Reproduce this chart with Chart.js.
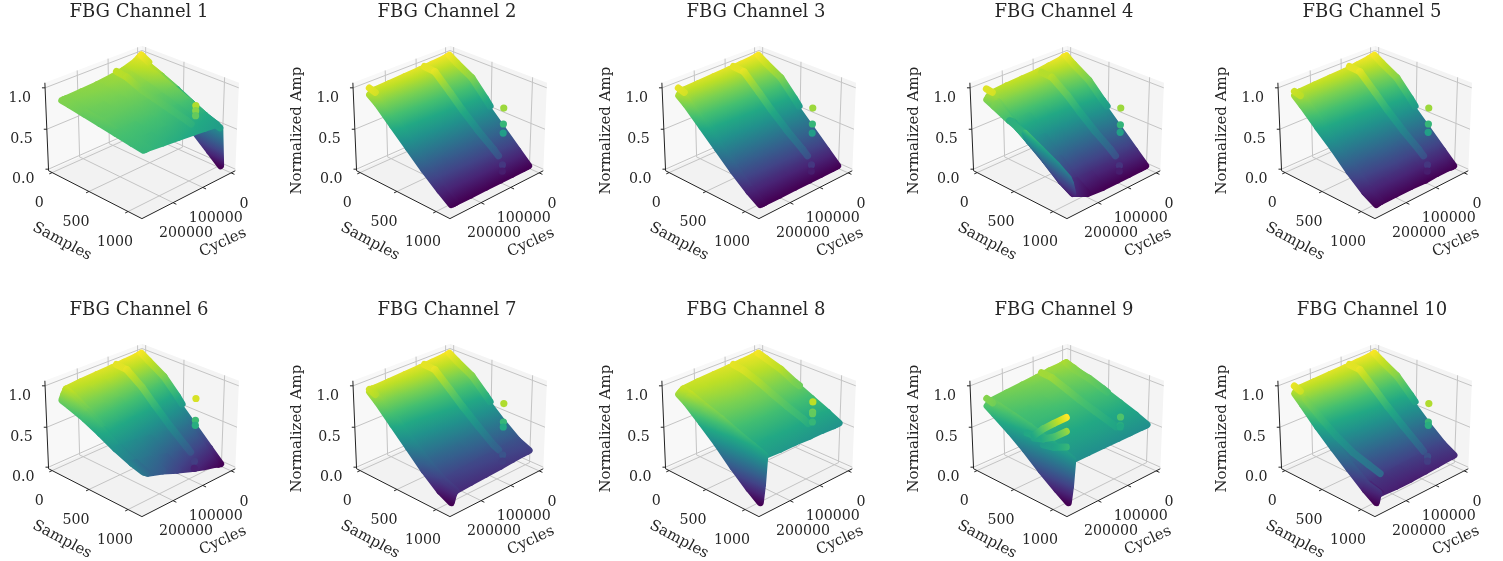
<!DOCTYPE html>
<html>
<head>
<meta charset="utf-8">
<style>
  html, body { margin:0; padding:0; background:#fff; overflow:hidden; width:1503px; height:561px; }
  canvas { position:absolute; filter:blur(0.4px); }
</style>
</head>
<body>
<script src="https://cdn.jsdelivr.net/npm/chart.js"></script>
<script>
// axes
const titles = ['FBG Channel 1','FBG Channel 2','FBG Channel 3','FBG Channel 4','FBG Channel 5','FBG Channel 6','FBG Channel 7','FBG Channel 8','FBG Channel 9','FBG Channel 10'];
const zLabelShown = [false,true,true,true,true,false,true,true,true,true];
const sampleTicks = [0,500,1000];
const cycleTicks = [0,100000,200000];
const ampTicks = [0,0.5,1];
const ampTickLabels = ['0.0','0.5','1.0'];

// surface grid: one row per cycle, one column per sample
const samples = [0,100,300,500,700,900,1040];
const cycles = [0,8000,20000,60000,100000,150000,200000,248000,255000,262000];

const amp1 = [
  [.98,.89,.70,.50,.30,.13,.01],
  [.96,.92,.84,.75,.65,.55,.50],
  [.93,.91,.86,.78,.70,.61,.56],
  [.88,.86,.81,.75,.69,.62,.58],
  [.85,.84,.80,.75,.70,.64,.60],
  [.83,.82,.79,.75,.71,.66,.62],
  [.82,.81,.78,.75,.71,.67,.64],
  [.81,.80,.77,.75,.71,.68,.66],
  [.81,.80,.77,.75,.71,.68,.66],
  [.81,.80,.77,.74,.71,.68,.66]];
const amp2 = [
  [.97,.88,.70,.52,.33,.14,.01],
  [.97,.88,.70,.52,.33,.14,.01],
  [.96,.87,.70,.52,.33,.14,.01],
  [.95,.86,.69,.51,.32,.14,.01],
  [.94,.85,.68,.50,.31,.13,.01],
  [.93,.84,.67,.49,.30,.13,.01],
  [.92,.83,.66,.48,.29,.12,.01],
  [.91,.82,.65,.47,.28,.12,.01],
  [.90,.82,.64,.46,.28,.11,.01],
  [.88,.81,.63,.45,.27,.11,.01]];
const amp3 = [
  [.97,.88,.70,.52,.33,.14,.01],
  [.97,.88,.70,.52,.33,.14,.01],
  [.96,.87,.70,.52,.33,.14,.01],
  [.95,.86,.69,.51,.32,.13,.01],
  [.94,.85,.68,.50,.31,.13,.01],
  [.93,.84,.67,.49,.30,.12,.01],
  [.92,.83,.66,.48,.29,.12,.01],
  [.91,.82,.65,.47,.28,.11,.01],
  [.90,.82,.64,.46,.28,.11,.01],
  [.87,.80,.62,.44,.26,.10,.01]];
const amp4 = [
  [.97,.88,.70,.52,.33,.14,.01],
  [.97,.88,.70,.52,.33,.14,.01],
  [.95,.87,.70,.52,.33,.14,.01],
  [.93,.85,.68,.50,.31,.13,.01],
  [.91,.84,.67,.49,.30,.12,.01],
  [.90,.83,.66,.48,.29,.11,.01],
  [.89,.82,.65,.48,.30,.12,.03],
  [.87,.81,.64,.50,.36,.20,.12],
  [.85,.80,.67,.55,.44,.32,.25],
  [.82,.78,.69,.62,.52,.42,.33]];
const amp5 = [
  [.97,.88,.70,.52,.33,.14,.01],
  [.97,.88,.70,.52,.33,.14,.01],
  [.96,.87,.70,.52,.33,.14,.02],
  [.94,.85,.68,.51,.32,.14,.02],
  [.92,.83,.66,.49,.30,.13,.01],
  [.91,.82,.65,.47,.30,.13,.02],
  [.90,.81,.64,.46,.28,.12,.02],
  [.89,.81,.63,.45,.27,.11,.02],
  [.88,.80,.62,.45,.26,.10,.02],
  [.87,.79,.61,.44,.25,.09,.01]];
const amp6 = [
  [.97,.88,.70,.52,.33,.14,.01],
  [.97,.88,.70,.52,.33,.15,.02],
  [.96,.88,.71,.53,.35,.17,.04],
  [.95,.88,.72,.55,.38,.21,.08],
  [.94,.88,.73,.57,.41,.25,.13],
  [.93,.88,.74,.59,.44,.30,.20],
  [.92,.87,.75,.61,.47,.36,.28],
  [.90,.86,.75,.62,.49,.40,.34],
  [.85,.83,.73,.62,.50,.41,.36],
  [.79,.76,.69,.60,.50,.42,.38]];
const amp7 = [
  [.97,.89,.72,.56,.39,.24,.18],
  [.97,.89,.72,.56,.39,.24,.18],
  [.96,.88,.71,.55,.39,.24,.18],
  [.95,.87,.70,.54,.38,.23,.17],
  [.94,.86,.69,.53,.37,.22,.16],
  [.93,.85,.67,.51,.35,.21,.15],
  [.92,.83,.65,.49,.33,.20,.14],
  [.91,.82,.64,.47,.31,.18,.13],
  [.91,.82,.63,.45,.28,.14,.10],
  [.89,.81,.62,.43,.24,.08,.01]];
const amp8 = [
  [.97,.93,.85,.77,.68,.59,.52],
  [.97,.93,.85,.77,.68,.59,.52],
  [.96,.93,.85,.77,.68,.59,.52],
  [.95,.92,.85,.77,.68,.59,.53],
  [.94,.91,.84,.77,.68,.60,.53],
  [.93,.90,.84,.77,.68,.60,.54],
  [.92,.89,.83,.76,.68,.60,.54],
  [.90,.88,.81,.75,.67,.60,.55],
  [.88,.85,.75,.63,.48,.33,.22],
  [.86,.80,.64,.47,.28,.11,.01]];
const amp9 = [
  [.86,.83,.76,.70,.63,.56,.50],
  [.86,.83,.76,.70,.63,.56,.50],
  [.85,.82,.76,.70,.63,.56,.50],
  [.84,.81,.75,.69,.63,.56,.50],
  [.82,.79,.75,.69,.62,.56,.50],
  [.80,.77,.73,.68,.62,.56,.50],
  [.78,.76,.71,.67,.61,.55,.50],
  [.76,.74,.70,.66,.60,.55,.50],
  [.74,.71,.63,.54,.42,.29,.20],
  [.72,.66,.54,.40,.24,.10,.01]];
const amp10 = [
  [.97,.89,.71,.54,.36,.20,.12],
  [.97,.89,.71,.54,.36,.20,.12],
  [.96,.88,.70,.53,.35,.19,.12],
  [.95,.87,.69,.52,.34,.18,.11],
  [.94,.86,.68,.51,.33,.17,.10],
  [.93,.85,.66,.49,.31,.16,.09],
  [.92,.83,.64,.47,.29,.15,.09],
  [.91,.82,.63,.45,.28,.14,.10],
  [.90,.82,.63,.45,.28,.15,.12],
  [.87,.78,.59,.42,.26,.10,.01]];
const ampGrids = [amp1,amp2,amp3,amp4,amp5,amp6,amp7,amp8,amp9,amp10];

// raised stripes running along the samples axis
const stripeACycle = 85000;
const stripeASamples = [0,140,340,500,700,900,960];
const stripeA = [
  [.90,.88,.80,.76,.71,.66,.64],
  [.96,.95,.77,.62,.45,.30,.25],
  [.96,.95,.77,.62,.45,.30,.25],
  [.89,.88,.74,.60,.44,.30,.25],
  [.96,.95,.77,.62,.45,.30,.25],
  [.96,.95,.81,.66,.48,.32,.27],
  [.96,.95,.78,.64,.48,.33,.30],
  [.96,.94,.87,.80,.72,.65,.62],
  [.86,.85,.78,.72,.66,.60,.58],
  [.96,.95,.78,.64,.48,.33,.28]];
const stripeBCycle = 0;
const stripeBSamples = [0,100,300,480,540];
const stripeB = [
  [.98,.93,null,null,null],
  [.98,.92,.81,.62,.55],
  [.98,.92,.81,.62,.55],
  [.97,.90,.78,.60,.55],
  [.98,.92,.81,.62,.55],
  [.98,.92,.80,.62,.55],
  [.98,.92,.81,.64,.58],
  [.98,.95,.89,.80,.78],
  [.86,.82,.78,.72,.70],
  [.98,.92,.81,.64,.58]];
// short heavy patch at the last cycle
const stripeCCycle = 262000;
const stripeCSamples = [0,80];
const stripeC = [
  [null,null],[.96,.94],[.96,.94],[.95,.94],[.92,.90],
  [null,null],[.92,.89],[null,null],[.81,.79],[.96,.93]];
// ridge just before the last cycle, channel 10
const stripeDCycle = 250000;
const stripeDSamples = [100,300,500,700,900,1040];
const stripeD10 = [.82,.67,.54,.44,.38,.34];

// lone markers off the surface
const dotCycle = 85000;
const dotSample = 1010;
const dotAmps = [
  [.88,.82,.76],
  [.85,.66,.55,.16,.08],
  [.85,.66,.55,.16,.08],
  [.85,.65,.56,.15,.08],
  [.85,.66,.56,.16,.08],
  [.94,.68,.62,.18,.09],
  [.88,.66,.60,.26,.18],
  [.90,.78,.76,.66],
  [.72,.62,.60],
  [.88,.66,.62,.24,.18]];

// streaks across channel 9, close to the last cycle
const streakCycle = 258000;
const streakSamples = [510,600,717,850,1000];
const streak9a = [.60,.61,.74,.86,.99];
const streak9b = [null,.58,.62,.70,.83];
const streak9c = [null,null,.55,.58,.65];

const viridis = ['#440154','#482475','#414487','#355f8d','#2a788e','#21918c','#22a884','#44bf70','#7ad151','#bddf26','#fde725'];

const cLim = [-15000,300000], sLim = [-50,1170], zLim = [-0.02,1.06];
const elev = 27*Math.PI/180, azim = Math.PI/4;
const boxX = 1.1428, boxY = 1.1428, boxZ = 0.857, eyeDist = 10;
const kx = 1207, ky = 1170;

// same perspective as a 3d axes box (x is cycles, y is samples)
function rawProject(c,s,z){
  const qx = ((c-cLim[0])/(cLim[1]-cLim[0])-0.5)*boxX;
  const qy = ((s-sLim[0])/(sLim[1]-sLim[0])-0.5)*boxY;
  const qz = ((z-zLim[0])/(zLim[1]-zLim[0])-0.5)*boxZ;
  const ce = Math.cos(elev), se = Math.sin(elev), ca = Math.cos(azim), sa = Math.sin(azim);
  const right = -sa*qx + ca*qy;
  const up = -se*ca*qx - se*sa*qy + ce*qz;
  const toward = ce*ca*qx + ce*sa*qy + se*qz;
  const d = eyeDist - toward;
  return {x:right/d, y:up/d};
}
const base = rawProject(cLim[1],sLim[1],zLim[0]);
function project(c,s,z){
  const p = rawProject(c,s,z);
  return {x:(p.x-base.x)*kx, y:(p.y-base.y)*ky};
}

function viridisAt(t){
  const v = Math.max(0,Math.min(1,t))*10, i = Math.min(9,Math.floor(v)), f = v-i;
  const a = parseInt(viridis[i].slice(1),16), b = parseInt(viridis[i+1].slice(1),16);
  const mix = sh => Math.round(((a>>sh)&255)*(1-f)+((b>>sh)&255)*f);
  return 'rgb('+mix(16)+','+mix(8)+','+mix(0)+')';
}

// canvas gradient in which colour follows amplitude across the shape
function ampGradient(chart,pts,amps){
  const sx = chart.scales.x, sy = chart.scales.y;
  const px = pts.map(p => ({x:sx.getPixelForValue(p.x), y:sy.getPixelForValue(p.y)}));
  let gx, gy;
  if (pts.length === 2) {
    const dx = px[1].x-px[0].x, dy = px[1].y-px[0].y, l2 = dx*dx+dy*dy || 1, da = amps[1]-amps[0];
    gx = dx*da/l2; gy = dy*da/l2;
  } else {
    const ax = px[2].x-px[0].x, ay = px[2].y-px[0].y, bx = px[3].x-px[1].x, by = px[3].y-px[1].y;
    const da = amps[2]-amps[0], db = amps[3]-amps[1], det = ax*by-ay*bx;
    if (Math.abs(det) < 1e-6) { gx = 0; gy = 0; }
    else { gx = (da*by-db*ay)/det; gy = (ax*db-bx*da)/det; }
  }
  const mx = px.reduce((t,p)=>t+p.x,0)/px.length, my = px.reduce((t,p)=>t+p.y,0)/px.length;
  const ma = amps.reduce((t,a)=>t+a,0)/amps.length, g2 = gx*gx+gy*gy;
  // thin folded cells give a wild gradient, keep them one colour
  if (g2 < 1e-9 || g2 > 0.0025) return viridisAt(ma);
  const grad = chart.ctx.createLinearGradient(mx-gx*ma/g2, my-gy*ma/g2, mx+gx*(1-ma)/g2, my+gy*(1-ma)/g2);
  viridis.forEach((col,i) => grad.addColorStop(i/10,col));
  return grad;
}

function lineSet(points,color,width){
  return {data:points, showLine:true, borderColor:color, borderWidth:width, pointRadius:0, fill:false, clip:false};
}

function paneSets(){
  const sets = [];
  const cA = cLim[0], cB = cLim[1], sA = sLim[0], sB = sLim[1], zA = zLim[0], zB = zLim[1];
  const pane = (corners,color) => sets.push({data:corners.concat([corners[0]]).map(q=>project(q[0],q[1],q[2])), showLine:true,
    borderColor:color, borderWidth:0, backgroundColor:color, pointRadius:0, fill:'shape', clip:false});
  pane([[cA,sA,zA],[cB,sA,zA],[cB,sB,zA],[cA,sB,zA]],'#f2f2f2');
  pane([[cA,sA,zA],[cB,sA,zA],[cB,sA,zB],[cA,sA,zB]],'#f8f8f8');
  pane([[cA,sA,zA],[cA,sB,zA],[cA,sB,zB],[cA,sA,zB]],'#f4f4f4');
  const grid = (a,b) => sets.push(lineSet([project(a[0],a[1],a[2]),project(b[0],b[1],b[2])],'#c4c4c4',1));
  sampleTicks.forEach(s => { grid([cB,s,zA],[cA,s,zA]); grid([cA,s,zA],[cA,s,zB]); });
  cycleTicks.forEach(c => { grid([c,sB,zA],[c,sA,zA]); grid([c,sA,zA],[c,sA,zB]); });
  ampTicks.forEach(z => { grid([cB,sA,z],[cA,sA,z]); grid([cA,sA,z],[cA,sB,z]); });
  const axis = (a,b) => sets.push(lineSet([project(a[0],a[1],a[2]),project(b[0],b[1],b[2])],'#222',1));
  axis([cB,sA,zA],[cB,sB,zA]);
  axis([cB,sB,zA],[cA,sB,zA]);
  axis([cB,sA,zA],[cB,sA,zB]);
  sampleTicks.forEach(s => axis([cB,s,zA],[cB+9000,s,zA]));
  cycleTicks.forEach(c => axis([c,sB,zA],[c,sB+40,zA]));
  ampTicks.forEach(z => axis([cB,sA,z],[cB+5000,sA-20,z]));
  return sets;
}

function surfaceSets(grid){
  const sets = [];
  for (let r = 0; r < cycles.length-1; r++) {
    for (let k = 0; k < samples.length-1; k++) {
      const corners = [[r,k],[r,k+1],[r+1,k+1],[r+1,k]];
      const pts = corners.map(q => project(cycles[q[0]],samples[q[1]],grid[q[0]][q[1]]));
      const amps = corners.map(q => grid[q[0]][q[1]]);
      const paint = ctx => ctx.chart.chartArea ? ampGradient(ctx.chart,pts,amps) : viridis[5];
      sets.push({data:pts.concat([pts[0]]), showLine:true, pointRadius:0, fill:'shape', clip:false,
        backgroundColor:paint, borderColor:paint, borderWidth:7, borderJoinStyle:'round', borderCapStyle:'round'});
    }
  }
  return sets;
}

function ribbonSets(c,sVals,amps){
  const sets = [];
  for (let i = 0; i < sVals.length-1; i++) {
    if (amps[i] === null || amps[i+1] === null) continue;
    const pts = [project(c,sVals[i],amps[i]),project(c,sVals[i+1],amps[i+1])];
    const pair = [amps[i],amps[i+1]];
    const paint = ctx => ctx.chart.chartArea ? ampGradient(ctx.chart,pts,pair) : viridis[5];
    sets.push({data:pts, showLine:true, pointRadius:0, fill:false, clip:false,
      borderColor:paint, borderWidth:7, borderCapStyle:'round'});
  }
  return sets;
}

const textPlugin = {
  id:'boxText',
  afterDatasetsDraw(chart,args,opts){
    const c = chart.ctx, sx = chart.scales.x, sy = chart.scales.y;
    const put = (str,p,dx,dy,rot) => {
      c.save();
      c.translate(sx.getPixelForValue(p.x)+dx, sy.getPixelForValue(p.y)+dy);
      c.rotate((rot||0)*Math.PI/180);
      c.fillText(str,0,0);
      c.restore();
    };
    const corner = project(cLim[1],sLim[1],zLim[0]);
    c.save();
    c.fillStyle = '#262626';
    c.textBaseline = 'middle';
    c.font = '14.2px "DejaVu Serif"';
    c.textAlign = 'center';
    sampleTicks.forEach(s => put(String(s),project(cLim[1],s,zLim[0]),-13,31));
    cycleTicks.forEach(v => put(String(v),project(v,sLim[1],zLim[0]),13,31));
    c.textAlign = 'right';
    ampTicks.forEach((z,i) => put(ampTickLabels[i],project(cLim[1],sLim[0],z),-14,10.5));
    c.textAlign = 'center';
    c.font = '15px "DejaVu Serif"';
    put('Samples',corner,-80,23,28);
    put('Cycles',corner,81,24,-25);
    if (opts.zLabel) put('Normalized Amp',corner,-153,-88,-90);
    c.restore();
  }
};

const panelW = 330, panelH = 280, stepX = 308.4, stepY = 298.1;
const cornerX0 = 141.7, topY0 = 2, cornerInCanvas = 219.7, titleH = 21.6, titleShift = 3;

titles.forEach((title,i) => {
  const col = i%5, row = Math.floor(i/5);
  const cv = document.createElement('canvas');
  cv.width = panelW; cv.height = panelH;
  cv.style.left = Math.round(cornerX0+col*stepX-titleShift-panelW/2)+'px';
  cv.style.top = Math.round(topY0+row*stepY)+'px';
  cv.style.width = panelW+'px'; cv.style.height = panelH+'px';
  document.body.appendChild(cv);

  let datasets = paneSets();
  datasets = datasets.concat(surfaceSets(ampGrids[i]));
  datasets = datasets.concat(ribbonSets(stripeACycle,stripeASamples,stripeA[i]));
  datasets = datasets.concat(ribbonSets(stripeBCycle,stripeBSamples,stripeB[i]));
  datasets = datasets.concat(ribbonSets(stripeCCycle,stripeCSamples,stripeC[i]));
  if (i === 9) datasets = datasets.concat(ribbonSets(stripeDCycle,stripeDSamples,stripeD10));
  if (i === 8) {
    datasets = datasets.concat(ribbonSets(streakCycle,streakSamples,streak9c));
    datasets = datasets.concat(ribbonSets(streakCycle,streakSamples,streak9b));
    datasets = datasets.concat(ribbonSets(streakCycle,streakSamples,streak9a));
  }
  datasets.push({data:dotAmps[i].map(a => project(dotCycle,dotSample,a)), showLine:false,
    pointRadius:3.6, pointBorderWidth:0, pointBackgroundColor:dotAmps[i].map(viridisAt)});
  datasets.forEach((d,k) => { d.order = -k; });

  new Chart(cv,{
    type:'scatter',
    data:{datasets},
    options:{
      responsive:false,
      animation:false,
      events:[],
      layout:{padding:0},
      plugins:{
        legend:{display:false},
        tooltip:{enabled:false},
        title:{display:true, text:title, color:'#262626', padding:0,
          font:{family:'"DejaVu Serif"', size:18, weight:'normal', lineHeight:1.2}},
        boxText:{zLabel:zLabelShown[i]}
      },
      scales:{
        x:{type:'linear', display:false, min:-panelW/2-titleShift, max:panelW/2-titleShift},
        y:{type:'linear', display:false, min:cornerInCanvas-panelH, max:cornerInCanvas-titleH}
      }
    },
    plugins:[textPlugin]
  });
});
</script>
</body>
</html>
